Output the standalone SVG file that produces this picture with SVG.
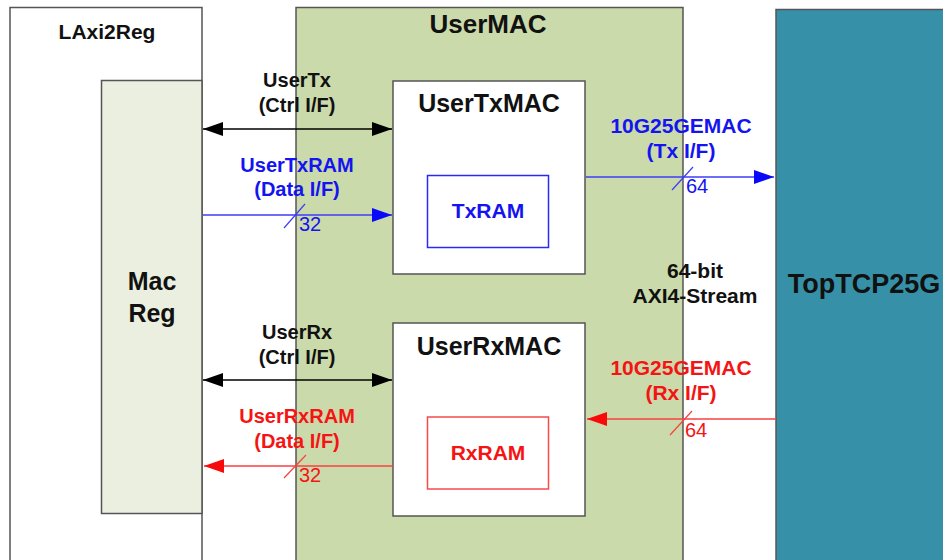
<svg xmlns="http://www.w3.org/2000/svg" width="943" height="560" viewBox="0 0 943 560">
<defs>
<style>
.box{stroke:#555;stroke-width:1.5}
.t{font-family:"Liberation Sans",Arial,sans-serif;font-weight:bold;text-anchor:middle}
.n{font-family:"Liberation Sans",Arial,sans-serif;font-size:20px}
.blk{fill:#111}
.blu{fill:#1414F0}
.red{fill:#F41414}
</style>
<marker id="ak" viewBox="0 0 20 14" refX="20" refY="7" markerWidth="20" markerHeight="14" markerUnits="userSpaceOnUse" orient="auto-start-reverse"><path d="M0,0 L20,7 L0,14 Z" fill="#000"/></marker>
<marker id="ab" viewBox="0 0 20 14" refX="20" refY="7" markerWidth="20" markerHeight="14" markerUnits="userSpaceOnUse" orient="auto"><path d="M0,0 L20,7 L0,14 Z" fill="#0A0AF8"/></marker>
<marker id="ar" viewBox="0 0 20 14" refX="20" refY="7" markerWidth="20" markerHeight="14" markerUnits="userSpaceOnUse" orient="auto"><path d="M0,0 L20,7 L0,14 Z" fill="#F80A0A"/></marker>
</defs>
<rect width="943" height="560" fill="#fff"/>
<g id="LAxi2Reg">
<rect class="box" x="10" y="7.5" width="192" height="560" fill="#fff"/>
<text class="t blk" x="107" y="39" font-size="21">LAxi2Reg</text>
</g>
<g id="MacReg">
<rect class="box" x="101.5" y="80.5" width="100.5" height="433" fill="#EBEFDF"/>
<text class="t blk" x="152" y="290" font-size="25">Mac</text>
<text class="t blk" x="152" y="322" font-size="25">Reg</text>
</g>
<g id="UserMAC">
<rect class="box" x="296" y="7.5" width="387" height="560" fill="#CBDAAA"/>
<text class="t blk" x="488" y="33" font-size="26">UserMAC</text>
</g>
<g id="TopTCP25G">
<rect class="box" x="776" y="9.5" width="180" height="560" fill="#3691A8"/>
<text class="t blk" x="864" y="293" font-size="27">TopTCP25G</text>
</g>
<g id="UserTxMAC">
<rect class="box" x="393" y="81" width="192" height="193" fill="#fff"/>
<text class="t blk" x="489" y="112" font-size="25">UserTxMAC</text>
</g>
<g id="TxRAM">
<rect x="427.5" y="175.5" width="121" height="72" fill="#fff" stroke="#2A2AF8" stroke-width="1.5"/>
<text class="t blu" x="488" y="218" font-size="21">TxRAM</text>
</g>
<g id="UserRxMAC">
<rect class="box" x="393" y="323" width="192" height="193" fill="#fff"/>
<text class="t blk" x="489" y="355" font-size="25">UserRxMAC</text>
</g>
<g id="RxRAM">
<rect x="427.5" y="417" width="121" height="72" fill="#fff" stroke="#F84A4A" stroke-width="1.5"/>
<text class="t red" x="488" y="460" font-size="21">RxRAM</text>
</g>
<g id="connectors">
<line x1="203" y1="129" x2="392" y2="129" stroke="#000" stroke-width="1.5" marker-start="url(#ak)" marker-end="url(#ak)"/>
<line x1="203" y1="380" x2="392" y2="380" stroke="#000" stroke-width="1.5" marker-start="url(#ak)" marker-end="url(#ak)"/>
<line x1="203" y1="215" x2="392" y2="215" stroke="#3C3CF8" stroke-width="1.5" marker-end="url(#ab)"/>
<line x1="284" y1="228" x2="305" y2="204" stroke="#3C3CF8" stroke-width="1.2"/>
<line x1="586" y1="177" x2="774" y2="177" stroke="#3C3CF8" stroke-width="1.5" marker-end="url(#ab)"/>
<line x1="672" y1="190" x2="693" y2="167" stroke="#3C3CF8" stroke-width="1.2"/>
<line x1="776" y1="419" x2="587" y2="419" stroke="#F84040" stroke-width="1.5" marker-end="url(#ar)"/>
<line x1="670" y1="435" x2="692" y2="411" stroke="#F84040" stroke-width="1.2"/>
<line x1="393" y1="466" x2="204" y2="466" stroke="#F84040" stroke-width="1.5" marker-end="url(#ar)"/>
<line x1="284" y1="478" x2="306" y2="455" stroke="#F84040" stroke-width="1.2"/>
</g>
<g id="labels">
<text class="t blk" x="297" y="87" font-size="20">UserTx</text>
<text class="t blk" x="297" y="112" font-size="20">(Ctrl I/F)</text>
<text class="t blu" x="297" y="172" font-size="20">UserTxRAM</text>
<text class="t blu" x="297" y="196" font-size="20">(Data I/F)</text>
<text class="n blu" x="299" y="231">32</text>
<text class="t blu" x="681" y="133" font-size="21">10G25GEMAC</text>
<text class="t blu" x="681" y="158" font-size="21">(Tx I/F)</text>
<text class="n blu" x="686" y="193">64</text>
<text class="t red" x="681" y="375" font-size="21">10G25GEMAC</text>
<text class="t red" x="681" y="400" font-size="21">(Rx I/F)</text>
<text class="n red" x="685" y="437">64</text>
<text class="t blk" x="297" y="339" font-size="20">UserRx</text>
<text class="t blk" x="297" y="364" font-size="20">(Ctrl I/F)</text>
<text class="t red" x="297" y="423" font-size="20">UserRxRAM</text>
<text class="t red" x="297" y="448" font-size="20">(Data I/F)</text>
<text class="n red" x="299" y="482">32</text>
<text class="t blk" x="695" y="278" font-size="21">64-bit</text>
<text class="t blk" x="695" y="303" font-size="21">AXI4-Stream</text>
</g>
</svg>
